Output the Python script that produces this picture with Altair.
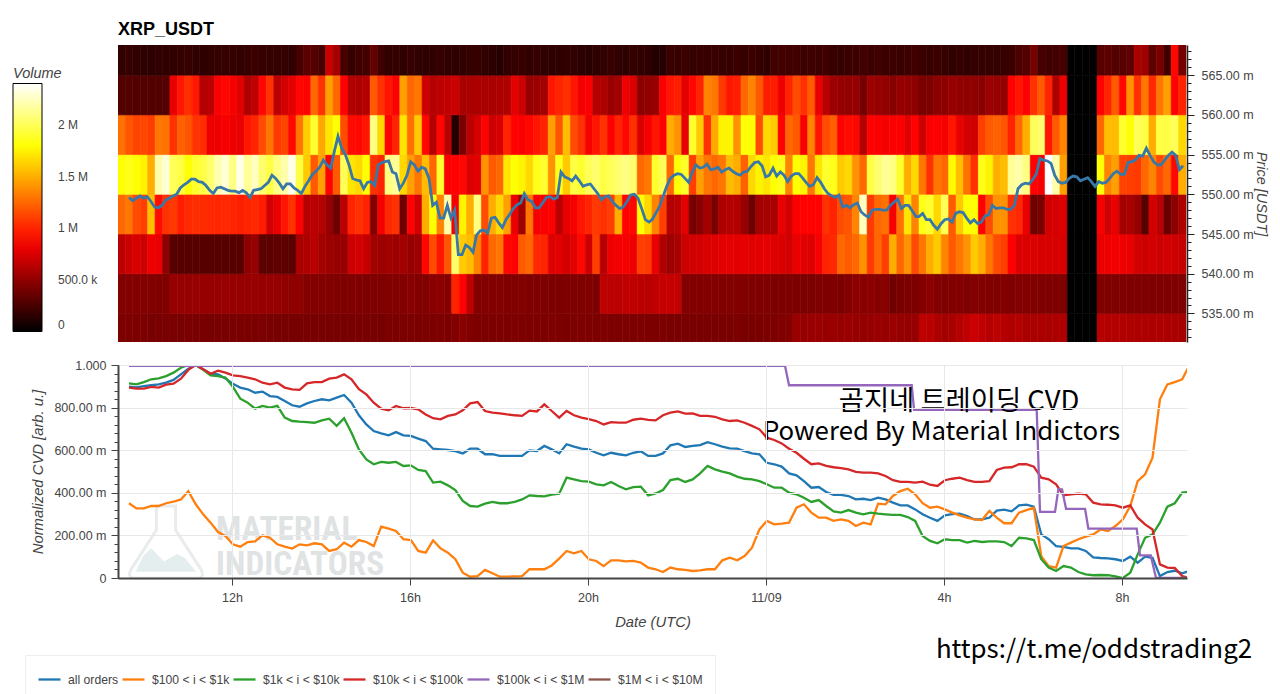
import altair as alt
import pandas as pd

FONT = "Liberation Sans"
TXT = "#444444"

# Heatmap volume, in thousands, one value per 10-minute column, one list per 5-wide price bin
R565 = ([170,190,170,160,150,170,160,170,180,190,170,160,170,180,190,180,170,190,200,190,180,190,180,170,240,310,290,240,690,560,240,190,220,230,340,220]
      + [170,190,160,190,170,160,170,180,170,160,170,180,190,170,150,130,170,180,190,170,180,170,160,160,170,170,150,140,160,170,190,170,160,180,170,160]
      + [120,130,200,190,210,180,200,190,200,180,190,200,190,210,180,160,230,230,220,230,210,220,210,220,190,180,200,210,230,210,220,200,210,200,210,220]
      + [200,190,200,190,170,180,170,180,190,180,180,190,200,260,280,400,240,220,230,240,0,0,0,0,300,320,290,300,320,580,540,320,420,220,900,400])
R560 = ([280,280,280,280,280,280,280,800,950,1040,960,620,640,860,900,850,780,600,650,900,1050,640,720,780,900,880,1250,1050,1450,1250,880,620,600,620,1200,1050]
      + [950,860,1450,1250,1300,700,620,650,660,700,580,580,590,580,580,590,600,780,700,520,540,560,950,1000,1050,950,840,860,620,600,520,560,820,750,480,500]
      + [520,860,950,980,780,900,1000,1350,1300,1080,950,980,1250,1350,1200,980,980,820,1000,1150,1050,1200,800,640,540,520,500,520,400,540,520,500,460,520,500,480]
      + [420,430,480,480,520,500,490,490,470,540,520,500,880,950,870,1050,1200,1000,600,820,0,0,0,0,880,1000,1200,900,1400,1050,1300,1020,1300,1450,880,1000])
R555 = ([1280,1180,1120,1130,1090,1300,1280,1050,1220,1180,1060,1040,820,820,850,820,800,950,1000,1150,1300,1080,1120,900,1300,1620,1900,1480,1700,1800,1150,920,900,950,2100,1650]
      + [880,1000,1700,1280,1600,900,620,900,650,120,420,640,720,880,700,740,1000,880,860,900,950,1000,1450,1180,1550,1150,1050,850,950,1050,870,1000,900,1050,750,850]
      + [950,880,1500,1400,800,1900,1600,1050,1480,1750,1750,1400,1800,1800,1150,1650,1600,880,1250,1200,850,1350,950,1150,1220,880,920,900,620,880,860,840,860,870,780,880]
      + [700,860,870,850,950,800,720,710,1100,1200,1220,1180,1000,1250,1500,2000,2050,950,1200,1350,0,0,0,0,1250,1550,1550,1900,1800,2000,1950,1500,1950,1950,2000,1650])
R550 = ([1800,1850,1800,1750,1500,2200,2300,2000,1950,1800,1900,1950,2050,2200,2300,2100,2350,2150,2250,2050,1950,2100,2200,2350,1950,1600,1200,1450,880,1200,2000,1700,1650,1800,1050,1000]
      + [2100,2150,1650,1450,1300,1550,1250,1900,860,880,900,760,780,1400,1200,1250,1700,1800,1750,1650,1850,1900,1400,1850,1600,1950,1900,2000,2050,1950,2000,2050,2100,2050,1250,1300]
      + [1900,2000,1250,1800,1900,1100,1450,1300,1250,1300,1550,1500,1220,1650,1750,1700,1800,1850,1350,1800,1750,1300,1700,1900,1850,1600,1650,1400,1250,1950,2050,2150,2100,1900,1500,1650]
      + [1300,1050,1300,1250,1780,1550,1280,1050,1850,1750,1500,1550,2150,2200,2100,880,850,2400,2200,1450,0,0,0,0,1800,1350,1450,1120,1100,1080,1250,1350,1150,1250,900,1500])
R545 = ([1250,1300,1150,1100,1560,920,1050,1080,980,1020,1040,1030,1020,1010,1020,1000,980,1000,1020,980,720,800,950,1050,880,620,640,620,520,380,640,1000,1050,1000,450,840]
      + [1020,1050,380,880,720,1500,1800,1350,2200,850,1750,1500,2100,1150,1500,1650,1450,800,550,1300,850,860,870,640,800,850,950,1000,1080,1050,1100,1500,880,900,1800,1650]
      + [1350,1100,620,640,780,400,470,560,420,600,620,610,520,380,560,570,580,800,720,860,880,880,880,1050,1000,1150,1180,1350,2250,1080,1250,1280,850,1280,1700,1350]
      + [1850,1900,1650,2000,1200,1600,1800,1800,880,1150,1400,1400,1050,1020,800,380,420,720,730,760,0,0,0,0,850,720,800,560,580,520,300,720,640,360,480,600])
R540 = ([640,700,740,700,820,800,480,300,300,300,300,300,300,300,300,300,300,480,520,320,320,330,320,310,580,600,640,560,540,520,520,700,720,680,560,540]
      + [560,540,560,520,540,900,1150,950,1180,2050,1600,1550,1350,1000,1250,1300,900,880,1200,1250,1020,1000,760,780,720,780,900,700,1100,620,820,840,850,820,1100,1080]
      + [800,600,540,580,700,720,720,750,760,780,790,780,790,770,780,790,760,750,720,800,780,760,850,1000,1020,1250,1200,1250,1400,1080,1250,1100,1500,1250,1400,1150]
      + [1300,1500,1600,1350,1200,1300,1400,1600,1500,1300,1150,1100,880,760,750,760,740,740,740,740,0,0,0,0,800,820,840,820,800,720,700,720,700,720,700,680])
R535 = ([450,445,450,455,445,440,440,520,515,520,525,520,515,520,525,520,515,520,525,520,515,520,495,490,490,450,450,445,445,440,435,440,440,430,440,435]
      + [445,450,450,470,450,450,470,480,460,1000,880,650,450,450,450,445,440,440,445,435,440,435,425,425,435,440,435,440,435,650,650,640,660,660,640,630]
      + [660,680,680,670,450,450,445,450,445,440,450,445,445,440,435,435,430,425,435,430,425,425,435,440,435,430,450,480,470,480,460,470,380,420,430,425]
      + [455,480,450,435,445,445,435,450,445,440,440,445,435,445,445,440,440,435,435,435,0,0,0,0,440,440,440,435,440,435,435,435,435,440,435,435])
R530 = ([430,430,430,430,410,415,415,420,415,420,415,415,410,415,420,415,420,420,420,425,415,410,410,415,410,415,415,410,410,415,405,410,415,415,410,405]
      + [425,420,425,430,420,425,430,435,430,445,470,440,430,425,430,425,430,435,425,425,430,425,435,425,420,430,435,425,430,435,430,425,430,425,435,425]
      + [425,425,415,415,415,420,415,415,420,415,420,425,420,415,420,425,430,440,450,530,520,530,530,520,530,520,530,520,510,520,530,520,530,520,510,520]
      + [650,640,600,560,580,620,650,700,660,620,650,620,600,620,580,580,590,580,590,600,0,0,0,0,620,610,620,610,600,590,600,590,600,590,580,570])
HEAT_ROWS = {530: R530, 535: R535, 540: R540, 545: R545, 550: R550, 555: R555, 560: R560, 565: R565}
HEAT_START = 9.438

# Price line, four stretches
PRICE_1 = [549.6,549.2,549.5,549.8,549.5,549.7,549.1,548.4,548.3,548.6,549.3,549.5,549.8,550.0,550.8,551.2,551.5,551.9,551.9,551.6,
           551.5,551.1,550.5,550.1,550.8,550.9,550.7,550.5,550.4,550.4,550.2,550.5,550.2,549.6,550.5,550.6,550.7,551.1,551.5,552.4,
           552.0,551.4,550.7,551.3,551.3,550.8,550.5,550.1,551.0,551.7,552.5,552.9,553.4,554.3,553.7,553.3,555.4,557.3,555.8,555.0,
           553.7,552.0,551.8,551.7,550.7,551.5,551.6,551.1,553.7,554.0]
PRICE_2 = [554.1,554.2,552.8,552.6,550.7,551.4,552.4,554.1,553.7,552.9,553.4,553.2,552.0,548.6,549.0,547.0,547.0,548.6,547.0,548.0,
           542.4,542.4,543.6,543.3,542.7,544.9,545.4,545.5,545.1,547.0,547.1,546.4,545.8,546.8,547.5,548.2,548.7,548.9,550.1,549.3,
           549.1,548.3,548.3,548.9,549.6,549.7,549.4,549.6,552.8,552.2,552.0,551.7,552.3,551.7,551.0,551.2,551.3,550.7,550.1,549.3,
           549.7,549.8,549.1,548.6,548.2,548.4,549.1,549.9,550.0,549.5,548.2,546.8,546.5]
PRICE_3 = [546.8,547.6,548.4,549.7,551.0,552.0,552.4,552.6,552.5,552.0,551.5,552.8,553.7,553.3,553.4,553.8,553.1,553.2,553.4,552.8,
           553.1,553.3,552.9,552.6,552.4,552.8,552.9,553.5,554.0,554.1,553.6,552.2,552.4,553.3,552.3,552.8,552.4,551.6,552.3,552.6,
           552.6,552.1,551.5,551.0,551.2,552.1,551.5,550.7,550.1,549.8,549.6,549.9,548.4,548.6,548.3,548.7,548.9,547.8,547.4,547.1,
           548.0,548.1,548.1,548.0,548.0,548.6,549.0,549.4,548.2,548.6,548.6,547.9,547.2]
PRICE_4 = [547.2,547.6,546.8,546.8,546.1,545.6,546.3,546.8,546.9,546.5,547.6,547.8,547.7,547.0,546.4,546.8,546.3,546.5,547.3,547.4,
           548.6,548.2,548.3,548.3,548.1,548.1,548.6,550.7,551.2,551.4,551.3,551.8,552.6,554.5,554.3,554.2,553.9,552.4,551.6,551.4,
           551.5,552.0,552.3,552.2,551.7,551.9,552.1,551.6,551.0,551.6,551.4,551.5,552.0,552.6,552.9,552.5,552.5,554.0,554.1,554.3,
           554.9,554.8,555.8,554.9,554.1,553.7,553.7,554.3,554.9,555.3,554.9,553.1,553.6]
PRICE_STARTS = [9.685, 15.438, 21.438, 27.438]
PRICE_STEP = 0.0824

# CVD series, one value per 10 minutes from CVD_START
ALL_ORDERS = [.898,.895,.901,.905,.909,.917,.93,.956,.983,1.0,.98,.959,.956,.937,.912,.894,.886,.87,.875,.854,.85,.831,.811,.804,.82,.831,.839,.834,.847,.859,.823,.764,.721,.69,.679,.67,.685,.67,.667,.654,
    .643,.607,.604,.601,.596,.585,.607,.607,.581,.581,.573,.573,.573,.573,.599,.596,.62,.604,.585,.628,.617,.607,.604,.588,.576,.588,.581,.576,.588,.595,.573,.573,.585,.623,.631,.615,.62,.624,.638,.628,.617,.609,.607,.596,.585,.581,.541,.534,.523,.491,.482,.455,.424,.427,.404,.39,.39,
    .385,.369,.372,.366,.377,.369,.354,.341,.341,.322,.299,.283,.268,.294,.3,.302,.291,.275,.275,.283,.316,.321,.313,.341,.344,.335,.205,.182,.15,.146,.139,.139,.127,.097,.094,.092,.088,.08,.1,.072,.1,.095,.009,.028,.034,.022,.033]
USD_100_1K = [.351,.327,.327,.338,.338,.351,.358,.369,.408,.346,.299,.26,.216,.197,.158,.147,.169,.172,.2,.189,.158,.147,.138,.158,.153,.163,.158,.127,.135,.166,.147,.178,.169,.15,.241,.232,.221,.182,.178,.127,
    .119,.177,.139,.119,.088,.025,.006,.009,.038,.022,.006,.006,.008,.009,.041,.041,.041,.059,.091,.127,.116,.127,.088,.08,.056,.083,.083,.078,.08,.072,.049,.041,.028,.049,.041,.038,.033,.036,.041,.041,.083,.095,.083,.103,.142,.228,.268,.252,.255,.26,.33,.346,.307,.283,.283,.268,.275,
    .268,.244,.26,.252,.349,.346,.385,.408,.419,.393,.351,.33,.335,.322,.307,.294,.283,.275,.272,.315,.283,.257,.257,.307,.319,.33,.103,.056,.049,.15,.166,.182,.194,.205,.228,.221,.244,.275,.338,.455,.487,.565,.839,.909,.92,.933,1.0]
USD_1K_10K = [.914,.909,.92,.933,.937,.948,.964,.987,1.0,1.0,.977,.951,.948,.941,.898,.842,.823,.795,.808,.8,.808,.753,.737,.734,.732,.729,.74,.748,.714,.75,.682,.604,.557,.534,.545,.541,.545,.526,.529,.507,
    .502,.448,.452,.435,.413,.362,.338,.335,.349,.357,.351,.351,.357,.369,.388,.385,.383,.391,.396,.471,.463,.455,.452,.44,.435,.451,.432,.416,.427,.429,.388,.397,.413,.46,.466,.451,.463,.491,.526,.51,.499,.491,.476,.466,.463,.455,.44,.424,.424,.401,.393,.377,.357,.366,.338,.313,.307,
    .319,.307,.299,.307,.302,.299,.296,.296,.286,.268,.197,.174,.163,.182,.178,.178,.166,.174,.169,.172,.172,.169,.15,.189,.186,.178,.088,.049,.033,.056,.049,.028,.017,.013,.014,.013,.008,0,.025,.111,.189,.205,.26,.335,.351,.401,.404]
USD_10K_100K = [.894,.889,.889,.897,.894,.908,.912,.936,.977,1.0,.98,.959,.973,.964,.951,.948,.941,.933,.917,.909,.917,.894,.886,.883,.914,.92,.92,.936,.941,.956,.933,.886,.862,.823,.795,.787,.808,.797,.798,.792,
    .768,.75,.745,.761,.768,.787,.82,.826,.784,.776,.773,.768,.764,.761,.786,.782,.815,.784,.753,.784,.764,.753,.746,.737,.721,.732,.729,.729,.743,.748,.742,.74,.764,.776,.782,.772,.773,.761,.761,.757,.745,.737,.74,.729,.714,.698,.659,.648,.632,.607,.588,.56,.534,.538,.526,.52,.516,
    .51,.498,.495,.495,.491,.479,.459,.451,.451,.448,.452,.438,.432,.459,.466,.471,.46,.451,.451,.455,.507,.518,.52,.534,.534,.523,.471,.463,.44,.388,.393,.396,.393,.354,.346,.344,.341,.33,.341,.283,.252,.228,.064,.049,.047,.009,0]
CVD_START = 9.685
CVD_STEP = 1 / 6
PURPLE_T = [9.685,24.427,24.517,27.274,27.326,30.083,30.157,30.494,30.569,30.652,30.742,31.169,31.243,32.33,32.404,32.645,32.764,33.46]
PURPLE_V = [.996,.996,.905,.905,.79,.79,.31,.31,.416,.416,.325,.325,.232,.232,.106,.106,0,0]
BROWN_T = [33.3, 33.46]
BROWN_V = [0, 0]
NAMES = ["all orders", "$100 < i < $1k", "$1k < i < $10k", "$10k < i < $100k", "$100k < i < $1M", "$1M < i < $10M"]
COLORS = ["#1f77b4", "#ff7f0e", "#2ca02c", "#d62728", "#9467bd", "#8c564b"]

VOL_TICKS = [0, 500000, 1000000, 1500000, 2000000]
PRICE_TICKS = [535, 540, 545, 550, 555, 560, 565]
PRICE_MINOR = list(range(532, 569))
TIME_TICKS = [12, 16, 20, 24, 28, 32]
CVD_TICKS = [0, .2, .4, .6, .8, 1.0]
CVD_MINOR = [i * .04 for i in range(26)]
X_DOM = [9.438, 33.46]
Y_DOM = [531.4, 568.8]

for row in HEAT_ROWS.values():
    assert len(row) == 144, len(row)
for s in (ALL_ORDERS, USD_100_1K, USD_1K_10K, USD_10K_100K):
    assert len(s) == 144, len(s)

heat = pd.DataFrame(
    [{"x0": HEAT_START + i / 6, "x1": HEAT_START + (i + 1) / 6, "p0": p, "p1": p + 5, "vol": v * 1000}
     for p, row in HEAT_ROWS.items() for i, v in enumerate(row)])
price = pd.DataFrame(
    [{"t": s + i * PRICE_STEP, "p": v}
     for s, part in zip(PRICE_STARTS, [PRICE_1, PRICE_2, PRICE_3, PRICE_4]) for i, v in enumerate(part)])
recs = []
for name, ser in zip(NAMES[:4], [ALL_ORDERS, USD_100_1K, USD_1K_10K, USD_10K_100K]):
    recs += [{"t": CVD_START + i * CVD_STEP, "v": v, "s": name} for i, v in enumerate(ser)]
recs += [{"t": t, "v": v, "s": NAMES[4]} for t, v in zip(PURPLE_T, PURPLE_V)]
recs += [{"t": t, "v": v, "s": NAMES[5]} for t, v in zip(BROWN_T, BROWN_V)]
cvd = pd.DataFrame(recs)

x_scale = alt.Scale(domain=X_DOM, nice=False, zero=False)
y_scale = alt.Scale(domain=Y_DOM, nice=False, zero=False)
color_scale = alt.Scale(domain=[0, 876000, 1790000, 2400000],
                        range=["#000000", "#ff0000", "#ffff00", "#ffffff"], interpolate="rgb")

vol_legend = alt.Legend(
    orient="none", legendX=-105, legendY=22, title="Volume", titleFont=FONT, titleFontSize=14.5,
    titleFontStyle="italic", titleFontWeight="normal", titleColor=TXT, titlePadding=2,
    gradientLength=248, gradientThickness=29, gradientStrokeColor="#000000", gradientStrokeWidth=1,
    values=VOL_TICKS, labelFont=FONT, labelFontSize=12, labelColor=TXT, labelAlign="center", labelOffset=16,
    labelExpr="datum.value==0?'0':datum.value<1000000?format(datum.value/1000,'.1f')+' k':(datum.value/1000000)+' M'",
    tickCount=40)

heat_layer = alt.Chart(heat).mark_rect(clip=True, strokeWidth=0.6).encode(
    x=alt.X("x0:Q", scale=x_scale, axis=None), x2="x1:Q",
    y=alt.Y("p0:Q", scale=y_scale, axis=alt.Axis(
        orient="right", values=PRICE_TICKS, title="Price [USDT]", titleFont=FONT, titleFontSize=14.5,
        titleFontStyle="italic", titleFontWeight="normal", titleColor=TXT, titlePadding=0,
        labelFont=FONT, labelFontSize=12.5, labelColor=TXT, labelPadding=7,
        labelExpr="format(datum.value,'.2f')+' m'", tickSize=7, tickColor="#222222",
        domainColor="#222222", domainWidth=1.5, grid=False)),
    y2="p1:Q",
    color=alt.Color("vol:Q", scale=color_scale, legend=vol_legend),
    stroke=alt.Stroke("vol:Q", scale=color_scale, legend=None))

price_layer = alt.Chart(price).mark_line(clip=True, color="#3878a8", strokeWidth=2.8).encode(
    x=alt.X("t:Q", scale=x_scale, axis=None),
    y=alt.Y("p:Q", scale=y_scale, axis=alt.Axis(
        orient="right", values=PRICE_MINOR, title=None, labels=False, domain=False, grid=False,
        tickSize=4, tickColor="#222222")))

bar_ticks = alt.Chart(pd.DataFrame({"v": VOL_TICKS[1:]})).mark_rule(color="#222222", strokeWidth=1).encode(
    y=alt.Y("v:Q", scale=alt.Scale(domain=[0, 2400000], range=[286, 38]), axis=None),
    x=alt.value(-81), x2=alt.value(-77))

top = alt.layer(heat_layer, price_layer, bar_ticks).resolve_scale(y="independent").resolve_axis(y="independent").properties(
    width=1069, height=297,
    title=alt.TitleParams("XRP_USDT", anchor="start", frame="group", font=FONT, fontSize=18, fontWeight="bold", color="#000000", offset=6))

cvd_y = alt.Scale(domain=[0, 1], nice=False, zero=False)

FLASK = "M-0.26,-1 L0.26,-1 L0.26,-0.35 L0.95,0.72 Q1.05,0.95 0.85,0.95 L-0.85,0.95 Q-1.05,0.95 -0.95,0.72 L-0.26,-0.35 Z"
HILLS = "M-0.82,0.78 L-0.62,0.36 L-0.4,0.14 L-0.05,0.5 L0.3,0.3 L0.5,0.4 L0.82,0.78 Z"
flask = alt.Chart(pd.DataFrame({"a": [0]})).mark_point(shape=FLASK, filled=False, stroke="#e9ecec", strokeWidth=3, size=5476, opacity=1).encode(
    x=alt.value(48), y=alt.value(178))
hills = alt.Chart(pd.DataFrame({"a": [0]})).mark_point(shape=HILLS, filled=True, fill="#e4eeee", size=5476, opacity=1).encode(
    x=alt.value(48), y=alt.value(178))
WM_LINES = ["MATERIAL", "INDICATORS"]
WM_FONT = "Roboto Condensed, Open Sans Condensed, Roboto"
wm1 = alt.Chart(pd.DataFrame({"t": WM_LINES[:1]})).mark_text(
    font=WM_FONT, fontWeight="bold", fontSize=33.3, color="#dfe3e3", align="left", baseline="alphabetic").encode(
    text="t:N", x=alt.value(98), y=alt.value(175))
wm2 = alt.Chart(pd.DataFrame({"t": WM_LINES[1:]})).mark_text(
    font=WM_FONT, fontWeight="bold", fontSize=33.3, color="#dfe3e3", align="left", baseline="alphabetic").encode(
    text="t:N", x=alt.value(98), y=alt.value(210))

lines = alt.Chart(cvd).mark_line(clip=True, strokeWidth=2.3).encode(
    x=alt.X("t:Q", scale=x_scale, axis=alt.Axis(
        values=TIME_TICKS, title="Date (UTC)", titleFont=FONT, titleFontSize=14.8, titleFontStyle="italic",
        titleFontWeight="normal", titleColor=TXT, titlePadding=11,
        labelFont=FONT, labelFontSize=12.5, labelColor=TXT, labelPadding=6,
        labelExpr="datum.value==24?'11/09':(datum.value%24)+'h'", tickSize=7, tickColor="#444444",
        domainColor="#444444", domainWidth=2, grid=True, gridColor="#e8e8e8", zindex=1)),
    y=alt.Y("v:Q", scale=cvd_y, axis=alt.Axis(
        orient="left", values=CVD_TICKS, title="Normalized CVD [arb. u.]", titleFont=FONT, titleFontSize=14.8,
        titleFontStyle="italic", titleFontWeight="normal", titleColor=TXT, titlePadding=8,
        labelFont=FONT, labelFontSize=12.5, labelColor=TXT, labelPadding=5,
        labelExpr="datum.value==0?'0':datum.value==1?'1.000':format(datum.value*1000,'.2f')+' m'",
        tickSize=7, tickColor="#444444", domainColor="#444444", domainWidth=2, grid=True, gridColor="#e8e8e8", zindex=1)),
    color=alt.Color("s:N", scale=alt.Scale(domain=NAMES, range=COLORS), sort=NAMES, legend=alt.Legend(
        orient="none", legendX=-93, legendY=290, direction="horizontal", columns=6, gridAlign="none",
        title=None, symbolType="stroke", symbolSize=484, symbolStrokeWidth=2.3, symbolOpacity=1,
        labelFont=FONT, labelFontSize=12.2, labelColor=TXT, labelOffset=6, columnPadding=-2, padding=12,
        strokeColor="#eeeeee", fillColor="#ffffff")))

minor = alt.Chart(pd.DataFrame({"v": CVD_MINOR})).mark_rule(opacity=0).encode(
    y=alt.Y("v:Q", scale=cvd_y, axis=alt.Axis(
        orient="left", values=CVD_MINOR, title=None, labels=False, domain=False, grid=False,
        tickSize=4, tickColor="#444444", zindex=1)))

NOTE_1 = ["곰지네 트레이딩 CVD"]
NOTE_2 = ["Powered By Material Indictors"]
NOTE_3 = ["https://t.me/oddstrading2"]
CJK = "Noto Sans CJK KR"
note1 = alt.Chart(pd.DataFrame({"t": NOTE_1})).mark_text(font=CJK, fontSize=27.4, color="#000000").encode(
    text="t:N", x=alt.value(841), y=alt.value(37))
note2 = alt.Chart(pd.DataFrame({"t": NOTE_2})).mark_text(font=CJK, fontSize=25.8, color="#000000").encode(
    text="t:N", x=alt.value(823.5), y=alt.value(67))
note3 = alt.Chart(pd.DataFrame({"t": NOTE_3})).mark_text(font=CJK, fontSize=25.9, color="#000000").encode(
    text="t:N", x=alt.value(976), y=alt.value(285))

bottom = alt.layer(flask, hills, wm1, wm2, lines, minor, note1, note2, note3).resolve_axis(y="independent").properties(
    width=1069, height=213)

chart = alt.vconcat(top, bottom, spacing=23, bounds="flush").properties(
    padding={"left": 5, "top": 13, "right": 0, "bottom": 0}, background="#ffffff"
).configure_view(stroke=None)

chart.save("out.html", embed_options={"renderer": "svg", "actions": False})
